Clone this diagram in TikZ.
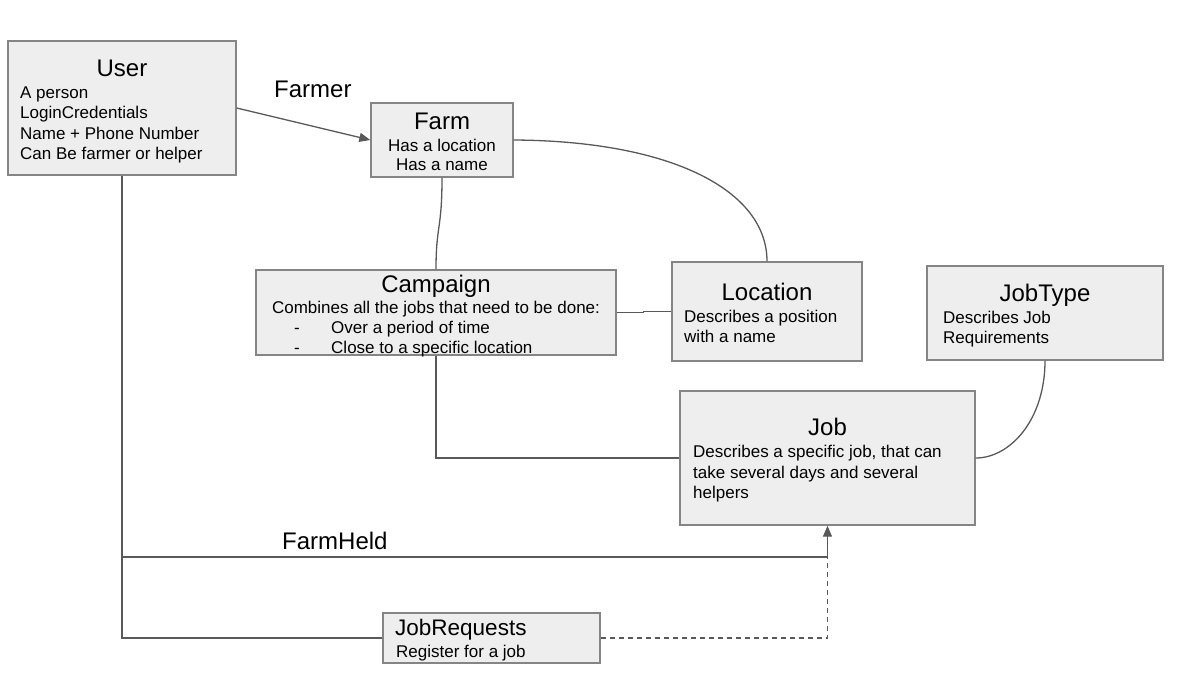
\documentclass[tikz,border=0pt]{standalone}
\usepackage{fontspec}
\setmainfont{Liberation Sans}
\usetikzlibrary{arrows.meta}

\definecolor{boxfill}{HTML}{EEEEEE}
\definecolor{boxline}{HTML}{858585}
\definecolor{linegray}{HTML}{595959}

\tikzset{
    box/.style={draw=boxline, fill=boxfill, line width=1.4pt, inner sep=0pt},
    title/.style={font=\fontsize{24}{28}\selectfont, inner sep=0pt, anchor=base},
    body/.style={font=\fontsize{17}{20}\selectfont, inner sep=0pt, anchor=base west},
    conn/.style={draw=linegray, line width=1.3pt},
    tip/.style={-{Triangle[length=11pt,width=9pt]}}
}

\begin{document}
\begin{tikzpicture}[x=1pt, y=-1pt]
    \useasboundingbox (0,0) rectangle (1179,683);

    %Boxen
    \node[box, minimum width=228pt, minimum height=134pt] (user) at (122,108) {};
    \node[box, minimum width=142pt, minimum height=74pt] (farm) at (442,140) {};
    \node[box, minimum width=360pt, minimum height=85pt] (campaign) at (436,312.5) {};
    \node[box, minimum width=190pt, minimum height=99pt] (location) at (767,311.5) {};
    \node[box, minimum width=236pt, minimum height=94pt] (jobtype) at (1045,313) {};
    \node[box, minimum width=295pt, minimum height=134pt] (job) at (827.5,458) {};
    \node[box, minimum width=217pt, minimum height=50pt] (jobreq) at (491.5,638) {};

    %Texte
    \node[title] (user-t) at (122,76) {User};
    \foreach[count=\i] \a in {A person, LoginCredentials, Name + Phone Number, Can Be farmer or helper} {
        \node[body] (user-\i) at (20,77.5+20.5*\i) {\a};
    }
    \node[title] (farm-t) at (442,129) {Farm};
    \node[body, anchor=base] (farm-1) at (442,151) {Has a location};
    \node[body, anchor=base] (farm-2) at (442,170.5) {Has a name};

    \node[title] (campaign-t) at (436,292) {Campaign};
    \node[body, anchor=base] (campaign-1) at (436,313) {Combines all the jobs that need to be done:};
    \foreach[count=\i] \a in {Over a period of time, Close to a specific location} {
        \node[body] (dash-\i) at (294,313+20*\i) {-};
        \node[body] (campaign-\i\i) at (331,313+20*\i) {\a};
    }

    \node[title] (location-t) at (767,300) {Location};
    \node[body] (location-1) at (684,322) {Describes a position};
    \node[body] (location-2) at (684,342.5) {with a name};

    \node[title] (jobtype-t) at (1045,301) {JobType};
    \node[body] (jobtype-1) at (943,323) {Describes Job};
    \node[body] (jobtype-2) at (943,343.5) {Requirements};

    \node[title] (job-t) at (827.5,435) {Job};
    \foreach[count=\i] \a in {{Describes a specific job, that can}, take several days and several, helpers} {
        \node[body] (job-\i) at (693,437.5+20.3*\i) {\a};
    }

    \node[title, anchor=base west, font=\fontsize{22.5}{26}\selectfont] (jobreq-t) at (395,635) {JobRequests};
    \node[body] (jobreq-1) at (396,657) {Register for a job};

    %Beziehungen
    \draw[conn, tip] (user.east) -- (farm.west);
    \node[title, anchor=base west] (farmer) at (274,97) {Farmer};

    \draw[conn] (farm.east) .. controls (673,141) and (767,191) .. (location.north);
    \draw[conn] (farm.south) .. controls (442,230) and (436,225) .. (campaign.north);
    \draw[conn] (campaign.east) -- ++(27,0) |- (location.west);
    \draw[conn] (campaign.south) |- (job.west);
    \draw[conn] (jobtype.south) .. controls (1045,420) and (1010,458) .. (job.east);

    \coordinate (heldstart) at (122,557);
    \coordinate (heldend) at (827.5,557);
    \draw[conn] (user.south) |- (jobreq.west);
    \draw[conn, tip] (heldstart) -- (heldend) -- (job.south);
    \node[title, anchor=base west] (farmheld) at (282,549) {FarmHeld};
    \draw[conn, dashed, dash pattern=on 5pt off 4pt] (jobreq.east) -| (heldend);
\end{tikzpicture}
\end{document}
